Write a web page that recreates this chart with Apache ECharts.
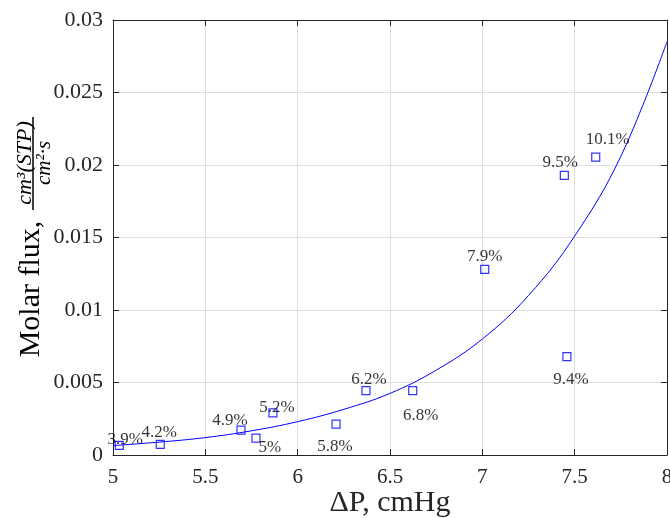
<!DOCTYPE html>
<html><head><meta charset="utf-8">
<script src="https://cdn.jsdelivr.net/npm/echarts@6/dist/echarts.min.js"></script>
<style>html,body{margin:0;padding:0;background:#fff}#c{width:670px;height:518px}</style>
</head><body><div id="c"></div>
<script>
// ---- data ----
const pressureDrop = [5.034, 5.256, 5.693, 5.774, 5.866, 6.208, 6.370, 6.623, 7.013, 7.444, 7.458, 7.614];
const molarFlux    = [0.00066, 0.00073, 0.00172, 0.00117, 0.00291, 0.00213, 0.00444, 0.00444, 0.0128, 0.01929, 0.00678, 0.02055];
const pointLabels  = ['3.9%', '4.2%', '4.9%', '5%', '5.2%', '5.8%', '6.2%', '6.8%', '7.9%', '9.5%', '9.4%', '10.1%'];
const fitX = [5.0, 5.25, 5.5, 5.75, 6.0, 6.25, 6.5, 6.75, 7.0, 7.25, 7.5, 7.75, 8.0];
const fitY = [0.00065, 0.00089, 0.00120, 0.00167, 0.00230, 0.00315, 0.00425, 0.00585, 0.0080, 0.0110, 0.0151, 0.0206, 0.0285];
const xTicks = ['5', '5.5', '6', '6.5', '7', '7.5', '8'];
const yTicks = ['0', '0.005', '0.01', '0.015', '0.02', '0.025', '0.03'];

// ---- styling (label offsets in px) ----
const labelOffsets = [[6,-6],[-1,-12],[-11,-10],[14,9],[4,-5],[-1,22],[3,-11],[8,25],[0,-13],[-4,-13],[4,23],[12,-17]];

const serif = 'Liberation Serif';
const axisCol = '#262626';
const chart = echarts.init(document.getElementById('c'));

const scatterData = pressureDrop.map((x, i) => ({
  value: [x, molarFlux[i]],
  name: pointLabels[i],
  label: { offset: labelOffsets[i] }
}));
const fitData = fitX.map((x, i) => [x, fitY[i]]);

const baseX = { type: 'value', min: 5, max: 8, interval: 0.5 };
const baseY = { type: 'value', min: 0, max: 0.03, interval: 0.005 };

chart.setOption({
  animation: false,
  backgroundColor: '#fff',
  grid: { left: 113, right: 3, top: 20, bottom: 63, containLabel: false, outerBoundsMode: 'none' },
  xAxis: [
    Object.assign({}, baseX, {
      position: 'bottom',
      name: 'ΔP, cmHg', nameLocation: 'middle', nameGap: 33, nameMoveOverlap: false,
      nameTextStyle: { fontFamily: serif, fontSize: 30, color: axisCol, verticalAlign: 'top' },
      axisLine: { show: true, onZero: false, lineStyle: { color: axisCol, width: 1 } },
      axisTick: { inside: true, length: 6, lineStyle: { color: axisCol } },
      axisLabel: { margin: 12, fontFamily: serif, fontSize: 21, color: axisCol,
        formatter: (v) => xTicks[Math.round((v - 5) / 0.5)] },
      splitLine: { show: true, lineStyle: { color: '#dfdfdf', width: 1 } }
    }),
    Object.assign({}, baseX, {
      position: 'top',
      axisLine: { show: true, onZero: false, lineStyle: { color: axisCol, width: 1 } },
      axisTick: { inside: true, length: 6, lineStyle: { color: axisCol } },
      axisLabel: { show: false }, splitLine: { show: false }
    })
  ],
  yAxis: [
    Object.assign({}, baseY, {
      position: 'left',
      axisLine: { show: true, onZero: false, lineStyle: { color: axisCol, width: 1 } },
      axisTick: { inside: true, length: 6, lineStyle: { color: axisCol } },
      axisLabel: { margin: 10, fontFamily: serif, fontSize: 22, color: axisCol,
        formatter: (v) => yTicks[Math.round(v / 0.005)] },
      splitLine: { show: true, lineStyle: { color: '#dfdfdf', width: 1 } }
    }),
    Object.assign({}, baseY, {
      position: 'right',
      axisLine: { show: true, onZero: false, lineStyle: { color: axisCol, width: 1 } },
      axisTick: { inside: true, length: 6, lineStyle: { color: axisCol } },
      axisLabel: { show: false }, splitLine: { show: false }
    })
  ],
  series: [
    {
      type: 'line', data: fitData, smooth: 0.4,
      showSymbol: false, symbol: 'none',
      lineStyle: { color: '#0000ff', width: 1 }, z: 2
    },
    {
      type: 'scatter', data: scatterData, symbol: 'rect', symbolSize: 8,
      itemStyle: { color: 'rgba(0,0,0,0)', borderColor: '#0000ff', borderWidth: 1.2 },
      label: { show: true, position: 'inside', formatter: '{b}',
        fontFamily: serif, fontSize: 17, color: '#000' },
      z: 3
    }
  ],
  graphic: [
    { type: 'text', x: 31, y: 289, rotation: Math.PI / 2,
      style: { text: 'Molar flux,', font: '30px "Liberation Serif"', fill: '#000',
        align: 'center', verticalAlign: 'middle' } },
    { type: 'text', x: 25, y: 163, rotation: Math.PI / 2,
      style: { text: 'cm³(STP)', font: 'italic 22px "Liberation Serif"', fill: '#000',
        align: 'center', verticalAlign: 'middle' } },
    { type: 'line', shape: { x1: 33, y1: 117, x2: 33, y2: 210 },
      style: { stroke: '#000', lineWidth: 1.5 } },
    { type: 'text', x: 44, y: 163, rotation: Math.PI / 2,
      style: { text: 'cm²·s', font: 'italic 21px "Liberation Serif"', fill: '#000',
        align: 'center', verticalAlign: 'middle' } }
  ]
});
</script></body></html>
